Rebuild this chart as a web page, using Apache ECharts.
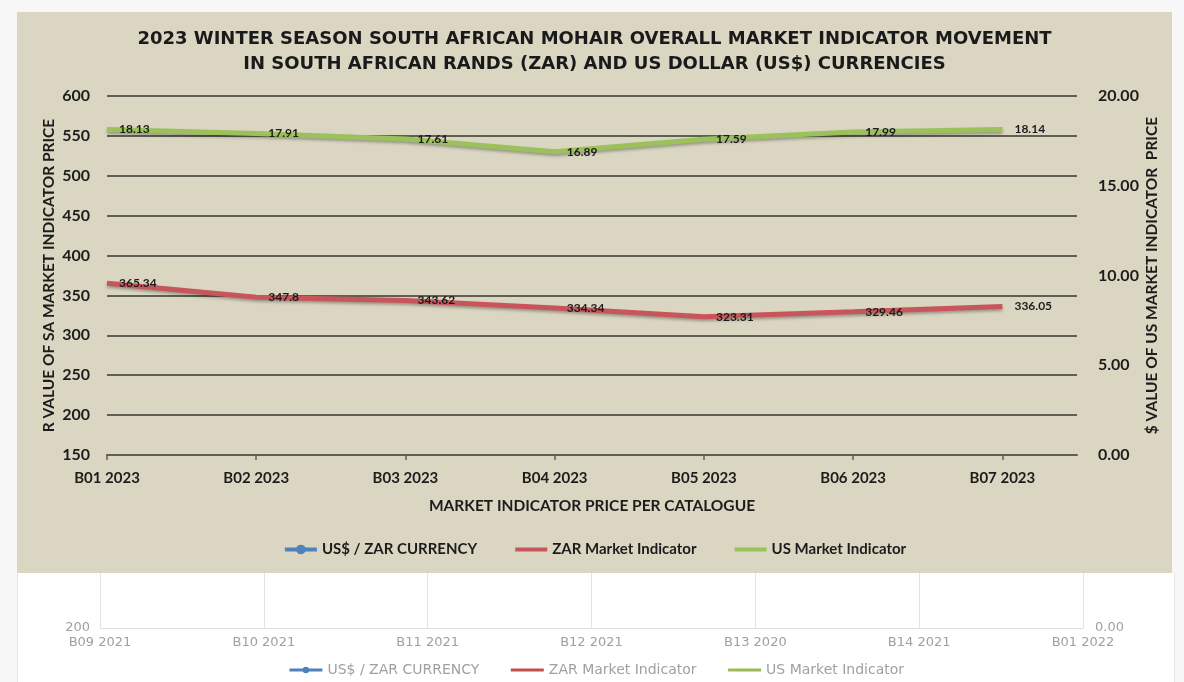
<!DOCTYPE html>
<html>
<head>
<meta charset="utf-8">
<script src="https://cdn.jsdelivr.net/npm/echarts@6/dist/echarts.min.js"></script>
<style>
  html, body { margin: 0; padding: 0; background: #f7f7f7; }
  #main { position: absolute; left: 17px; top: 12px; width: 1155px; height: 561px; background: #dad6c2; }
  #ghost { position: absolute; left: 17px; top: 573px; width: 1158px; height: 109px; background: #ffffff;
           border-left: 1px solid #e4e4e4; border-right: 1px solid #e4e4e4; box-sizing: border-box; }
</style>
</head>
<body>
<div id="main"></div>
<div id="ghost"></div>
<script>
    // sale catalogues (x axis)
    var catalogues = ["B01 2023", "B02 2023", "B03 2023", "B04 2023", "B05 2023", "B06 2023", "B07 2023"];
    // ZAR market indicator (left axis, rand)
    var zarValues = [365.34, 347.8, 343.62, 334.34, 323.31, 329.46, 336.05];
    // US market indicator (right axis, dollar)
    var usValues = [18.13, 17.91, 17.61, 16.89, 17.59, 17.99, 18.14];
    // exchange rate series has no points drawn in this chart
    var fxValues = [];
    var seriesNames = ["US$ / ZAR CURRENCY", "ZAR Market Indicator", "US Market Indicator"];
    // the older chart peeking out below
    var oldCatalogues = ["B09 2021", "B10 2021", "B11 2021", "B12 2021", "B13 2020", "B14 2021", "B01 2022"];

    function pairs(vals)
    {
        //把数值和目录序号配成点
        return vals.map(function (v, i) { return [i, v]; });
    }
    function legendItems(w)
    {
        //只有汇率那一项带圆点，其余只画粗线
        return seriesNames.map(function (n, i) {
            return i == 0 ? { name: n, lineStyle: { width: w } }
                          : { name: n, lineStyle: { width: w }, itemStyle: { opacity: 0, borderWidth: 0 } };
        });
    }

    var dark = '#1c1c1c';
    var gridCol = '#5f5f54';
    var bold = { fontFamily: 'Lato', fontWeight: 'bold', color: dark };

    var myChart = echarts.init(document.getElementById('main'));
    myChart.setOption({
        animation: false,
        textStyle: { fontFamily: 'Lato' },
        title: {
            text: '2023 WINTER SEASON SOUTH AFRICAN MOHAIR OVERALL MARKET INDICATOR MOVEMENT\nIN SOUTH AFRICAN RANDS (ZAR) AND US DOLLAR (US$) CURRENCIES',
            left: 'center',
            top: 10,
            textStyle: { fontFamily: 'DejaVu Sans', fontWeight: 'bold', fontSize: 18, lineHeight: 25, color: '#1a1a1a' }
        },
        legend: {
            top: 525,
            left: 'center',
            itemWidth: 32,
            itemHeight: 12,
            itemGap: 36,
            textStyle: { fontFamily: 'Lato', fontWeight: 'bold', fontSize: 15, color: dark },
            data: legendItems(4)
        },
        grid: { left: 90, right: 95, top: 84, bottom: 118 },
        xAxis: {
            type: 'value',
            min: 0,
            max: catalogues.length - 0.5,
            interval: 1,
            name: 'MARKET INDICATOR PRICE PER CATALOGUE',
            nameLocation: 'middle',
            nameGap: 43,
            nameMoveOverlap: false,
            nameTextStyle: Object.assign({ fontSize: 15.5 }, bold),
            axisLine: { lineStyle: { color: gridCol, width: 2 } },
            axisTick: { show: true, length: 5, lineStyle: { color: gridCol, width: 1.5 } },
            splitLine: { show: false },
            axisLabel: Object.assign({
                fontSize: 15,
                margin: 16,
                showMaxLabel: false,
                formatter: function (v) { return Number.isInteger(v) ? catalogues[v] : ''; }
            }, bold)
        },
        yAxis: [
            {
                type: 'value',
                min: 150,
                max: 600,
                interval: 50,
                name: 'R VALUE OF SA MARKET INDICATOR PRICE',
                nameLocation: 'middle',
                nameRotate: 90,
                nameGap: 50,
                nameMoveOverlap: false,
                nameTextStyle: Object.assign({ fontSize: 15.5 }, bold),
                axisLine: { show: false },
                axisTick: { show: false },
                axisLabel: Object.assign({ fontSize: 16, margin: 17 }, bold),
                splitLine: { lineStyle: { color: gridCol, width: 2 } }
            },
            {
                type: 'value',
                min: 0,
                max: 20,
                interval: 5,
                position: 'right',
                name: '$ VALUE OF US MARKET INDICATOR  PRICE',
                nameLocation: 'middle',
                nameRotate: 90,
                nameGap: 67,
                nameMoveOverlap: false,
                nameTextStyle: Object.assign({ fontSize: 15.5 }, bold),
                axisLine: { show: false },
                axisTick: { show: false },
                splitLine: { show: false },
                axisLabel: Object.assign({ fontSize: 16, margin: 21, formatter: function (v) { return v.toFixed(2); } }, bold)
            }
        ],
        series: [
            {
                name: seriesNames[0],
                type: 'line',
                yAxisIndex: 1,
                data: pairs(fxValues),
                symbol: 'circle',
                symbolSize: 8,
                itemStyle: { color: '#4f81bd' },
                lineStyle: { width: 4, color: '#4f81bd' }
            },
            {
                name: seriesNames[1],
                type: 'line',
                yAxisIndex: 0,
                data: pairs(zarValues),
                symbol: 'circle',
                symbolSize: 0.1,
                itemStyle: { color: '#c8555a' },
                lineStyle: { width: 5, color: '#c8555a', shadowColor: 'rgba(0,0,0,0.3)', shadowBlur: 3, shadowOffsetY: 2 },
                label: { show: true, position: 'right', distance: 12, fontSize: 12, fontFamily: 'Lato', fontWeight: 'bold', color: dark }
            },
            {
                name: seriesNames[2],
                type: 'line',
                yAxisIndex: 1,
                data: pairs(usValues),
                symbol: 'circle',
                symbolSize: 0.1,
                itemStyle: { color: '#9bc15a' },
                lineStyle: { width: 5, color: '#9bc15a', shadowColor: 'rgba(0,0,0,0.3)', shadowBlur: 3, shadowOffsetY: 2 },
                label: { show: true, position: 'right', distance: 12, fontSize: 12, fontFamily: 'Lato', fontWeight: 'bold', color: dark }
            }
        ]
    });

    // 下方露出的旧图表
    var ghostChart = echarts.init(document.getElementById('ghost'));
    var faint = { fontFamily: 'DejaVu Sans', fontSize: 13, color: '#a0a0a0' };
    ghostChart.setOption({
        animation: false,
        legend: {
            top: 85,
            left: 'center',
            itemWidth: 33,
            itemHeight: 8,
            itemGap: 30,
            textStyle: Object.assign({}, faint, { fontSize: 14 }),
            data: legendItems(3)
        },
        grid: { left: 82, right: 91, top: 0, bottom: 54 },
        xAxis: {
            type: 'category',
            boundaryGap: false,
            data: oldCatalogues,
            axisLine: { lineStyle: { color: '#dddddd' } },
            axisTick: { show: false },
            axisLabel: Object.assign({ margin: 8 }, faint),
            splitLine: { show: true, lineStyle: { color: '#e4e4e4' } }
        },
        yAxis: [
            {
                type: 'value', min: 200, max: 600, interval: 400,
                axisLine: { show: false }, axisTick: { show: false }, splitLine: { show: false },
                axisLabel: Object.assign({ margin: 10, showMaxLabel: false }, faint)
            },
            {
                type: 'value', min: 0, max: 20, interval: 20, position: 'right',
                axisLine: { show: false }, axisTick: { show: false }, splitLine: { show: false },
                axisLabel: Object.assign({ margin: 12, showMaxLabel: false, formatter: function (v) { return v.toFixed(2); } }, faint)
            }
        ],
        series: [
            { name: seriesNames[0], type: 'line', data: [], symbol: 'circle', symbolSize: 6, itemStyle: { color: '#4f81bd' }, lineStyle: { width: 3 } },
            { name: seriesNames[1], type: 'line', data: [], symbolSize: 0.1, itemStyle: { color: '#c0504d' }, lineStyle: { width: 3 } },
            { name: seriesNames[2], type: 'line', yAxisIndex: 1, data: [], symbolSize: 0.1, itemStyle: { color: '#9bbb59' }, lineStyle: { width: 3 } }
        ]
    });
</script>
</body>
</html>
